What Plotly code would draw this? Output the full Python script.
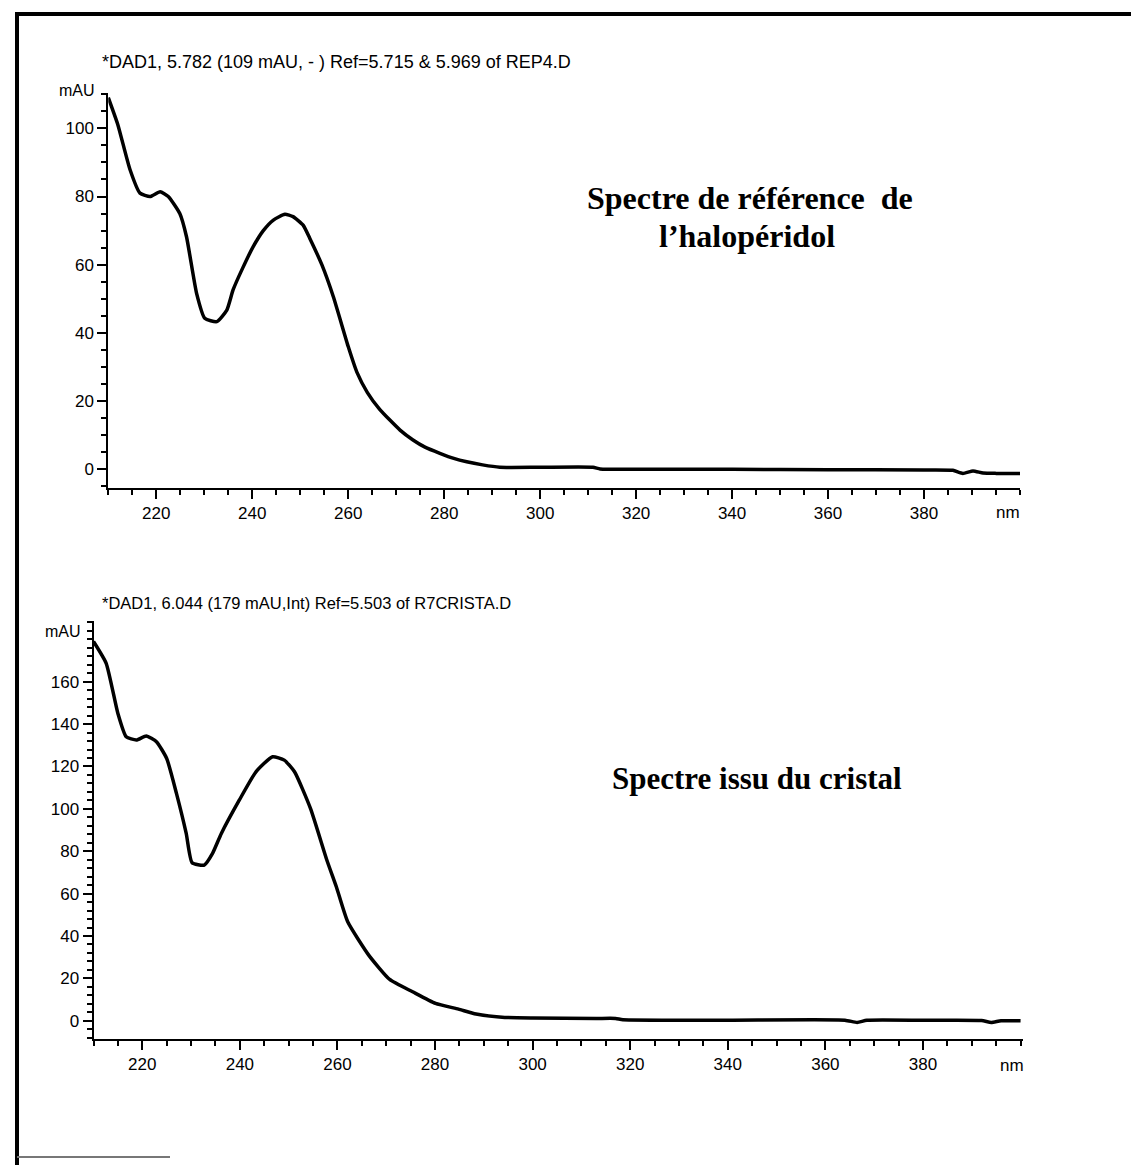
import plotly.graph_objects as go

# Reference spectrum of haloperidol (DAD1, REP4.D)
ref_nm = [210, 212, 214.5, 216.6, 218.7, 220.8, 222.5, 224.9, 226.3, 228.4, 230.1, 232.6,
          234.7, 236, 238, 240.2, 242.3, 244.4, 246.8, 248.5, 250.6, 252, 254.5, 256.9,
          260, 261.8, 264, 266.6, 270.8, 273.5, 276, 279.1, 282, 284.7, 288, 291.6,
          300, 311, 312.5, 320, 340, 360, 380, 386, 388.1, 390.2, 392.3, 395, 400]
ref_mau = [109, 101, 88, 81, 80, 81.4, 80, 75, 68.2, 51.6, 44.3, 43.3,
           46.7, 52.6, 59, 65.3, 70, 73.1, 74.8, 74.1, 71.6, 67.7, 60, 50.6,
           36, 28.5, 22.5, 17.5, 11.5, 8.6, 6.5, 4.7, 3.2, 2.2, 1.3, 0.6,
           0.6, 0.6, 0.1, 0, 0, -0.1, -0.2, -0.3, -1.2, -0.5, -1.1, -1.2, -1.2]

# Spectrum recorded from the crystal (DAD1, R7CRISTA.D)
cry_nm = [210, 212.6, 215, 216.7, 218.8, 220.8, 222.9, 225, 227, 229, 230.2, 232.7,
          234.4, 236.2, 239.9, 243.3, 246.7, 249.1, 251.2, 254.5, 257.8, 259.8, 262.1,
          266.4, 270.7, 275.4, 280.1, 284.8, 288.4, 294.3, 300, 313, 317, 318.5, 340,
          364, 366.5, 368.5, 380, 392, 394, 396, 400]
cry_mau = [179, 168.7, 145, 134, 132.5, 134.4, 131.7, 123.8, 107.3, 88.4, 74.6, 73.5,
           79, 88.4, 104.2, 117.5, 124.6, 123, 117.5, 100, 76, 63, 46.7,
           31, 19.5, 13.7, 8.2, 5.5, 3.2, 1.6, 1.3, 1.1, 1.1, 0.5, 0.3,
           0.3, -0.8, 0.2, 0.2, 0.1, -0.8, 0, 0]

x_ticks = [220, 240, 260, 280, 300, 320, 340, 360, 380]
ref_y_ticks = [0, 20, 40, 60, 80, 100]
cry_y_ticks = [0, 20, 40, 60, 80, 100, 120, 140, 160]

ref_title = "*DAD1, 5.782 (109 mAU, - ) Ref=5.715 & 5.969 of REP4.D"
cry_title = "*DAD1, 6.044 (179 mAU,Int) Ref=5.503 of R7CRISTA.D"
ref_label_1 = "Spectre de référence  de"
ref_label_2 = "l’halopéridol"
cry_label = "Spectre issu du cristal"

W, H = 1131, 1165
SANS = "Liberation Sans, Arial, sans-serif"
SERIF = "Liberation Serif, Times New Roman, serif"


def px(x):
    return x / W


def py(y):
    return 1 - y / H


fig = go.Figure()
fig.add_trace(go.Scatter(x=ref_nm, y=ref_mau, mode="lines",
                         line=dict(color="black", width=3.5, shape="spline", smoothing=0.5),
                         xaxis="x", yaxis="y", showlegend=False))
fig.add_trace(go.Scatter(x=cry_nm, y=cry_mau, mode="lines",
                         line=dict(color="black", width=3.5, shape="spline", smoothing=0.5),
                         xaxis="x2", yaxis="y2", showlegend=False))

axis_common = dict(showline=True, linecolor="black", linewidth=2, showgrid=False,
                   zeroline=False, ticks="outside", tickcolor="black", tickwidth=2,
                   ticklen=9, tickfont=dict(family=SANS, size=17, color="black"))
minor_common = dict(tickmode="linear", tick0=0, ticks="outside",
                    ticklen=5, tickcolor="black", tickwidth=2)

fig.update_layout(
    width=W, height=H,
    margin=dict(l=0, r=0, t=0, b=0),
    paper_bgcolor="white", plot_bgcolor="white",
    xaxis=dict(**axis_common, domain=[px(108.3), px(1020)], range=[210, 400],
               tickmode="array", tickvals=x_ticks, anchor="y",
               minor=dict(**minor_common, dtick=5)),
    yaxis=dict(**axis_common, domain=[py(487.7), py(93.2)], range=[-5.4, 110.3],
               tickmode="array", tickvals=ref_y_ticks, anchor="x",
               minor=dict(**minor_common, dtick=5)),
    xaxis2=dict(**axis_common, domain=[px(93.5), px(1023)], range=[210, 400.5],
                tickmode="array", tickvals=x_ticks, anchor="y2",
                minor=dict(**minor_common, dtick=5)),
    yaxis2=dict(**axis_common, domain=[py(1039), py(620.7)], range=[-8.6, 188.8],
                tickmode="array", tickvals=cry_y_ticks, anchor="x2",
                minor=dict(**minor_common, dtick=4)),
)

annots = [
    dict(text=ref_title, x=px(100), y=py(62), xanchor="left", yanchor="middle",
         font=dict(family=SANS, size=18, color="black")),
    dict(text=cry_title, x=px(100), y=py(603), xanchor="left", yanchor="middle",
         font=dict(family=SANS, size=16.5, color="black")),
    dict(text="mAU", x=px(97), y=py(91), xanchor="right", yanchor="middle",
         font=dict(family=SANS, size=16, color="black")),
    dict(text="mAU", x=px(83), y=py(632), xanchor="right", yanchor="middle",
         font=dict(family=SANS, size=16, color="black")),
    dict(text="nm", x=px(1008), y=py(513), xanchor="center", yanchor="middle",
         font=dict(family=SANS, size=17, color="black")),
    dict(text="nm", x=px(1012), y=py(1065), xanchor="center", yanchor="middle",
         font=dict(family=SANS, size=17, color="black")),
    dict(text="<b>" + ref_label_1 + "</b>", x=px(750), y=py(198), xanchor="center",
         yanchor="middle", font=dict(family=SERIF, size=32, color="black")),
    dict(text="<b>" + ref_label_2 + "</b>", x=px(747), y=py(236), xanchor="center",
         yanchor="middle", font=dict(family=SERIF, size=32, color="black")),
    dict(text="<b>" + cry_label + "</b>", x=px(757), y=py(778), xanchor="center",
         yanchor="middle", font=dict(family=SERIF, size=31, color="black")),
]
for a in annots:
    fig.add_annotation(xref="paper", yref="paper", showarrow=False, **a)

# page frame
fig.add_shape(type="line", xref="paper", yref="paper", x0=px(17), x1=px(17),
              y0=py(13), y1=py(1165), line=dict(color="black", width=4))
fig.add_shape(type="line", xref="paper", yref="paper", x0=px(15), x1=px(1131),
              y0=py(14), y1=py(14), line=dict(color="black", width=4))
fig.add_shape(type="line", xref="paper", yref="paper", x0=px(17), x1=px(170),
              y0=py(1157), y1=py(1157), line=dict(color="#777777", width=2))

fig.write_html("out.html")
